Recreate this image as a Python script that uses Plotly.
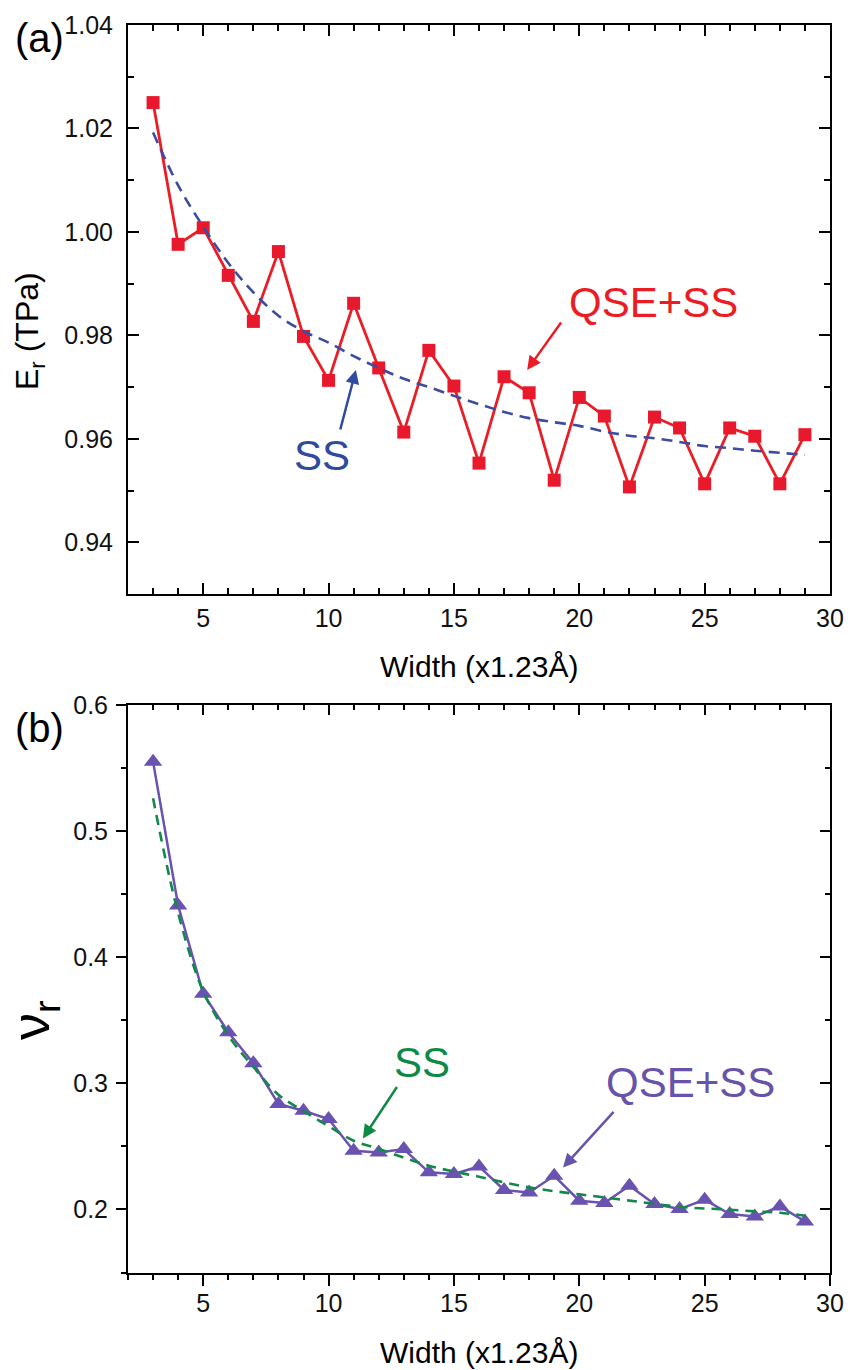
import plotly.graph_objects as go

# ---- data ----
width = list(range(3, 30))

# (a) Young's modulus, quantum-size + surface-stress model
er_qse_ss = [1.025, 0.9976, 1.0008, 0.9916, 0.9827, 0.9962, 0.9798, 0.9713, 0.9862,
             0.9737, 0.9613, 0.9771, 0.9702, 0.9553, 0.9720, 0.9689, 0.9520, 0.9680,
             0.9644, 0.9507, 0.9642, 0.9621, 0.9513, 0.9621, 0.9605, 0.9513, 0.9608]
# (a) surface-stress only
er_ss = [1.0192, 1.0090, 1.0010, 0.9940, 0.9883, 0.9838, 0.9808, 0.9786, 0.9760,
         0.9737, 0.9716, 0.9700, 0.9683, 0.9667, 0.9652, 0.9640, 0.9632, 0.9625,
         0.9614, 0.9606, 0.9601, 0.9594, 0.9586, 0.9582, 0.9577, 0.9573, 0.9569]

# (b) Poisson ratio, quantum-size + surface-stress model
nu_qse_ss = [0.555, 0.441, 0.371, 0.3405, 0.3159, 0.2837, 0.2783, 0.2717, 0.2466,
             0.2452, 0.2479, 0.2294, 0.2281, 0.2341, 0.2154, 0.2135, 0.2267, 0.2069,
             0.2051, 0.2188, 0.2043, 0.2003, 0.2077, 0.1963, 0.1944, 0.2024, 0.1905]
# (b) surface-stress only
nu_ss = [0.526, 0.435, 0.373, 0.338, 0.313, 0.291, 0.278, 0.266, 0.2545, 0.248,
         0.241, 0.2347, 0.230, 0.226, 0.2215, 0.2175, 0.2145, 0.212, 0.2095, 0.207,
         0.2045, 0.202, 0.2008, 0.1998, 0.1985, 0.1974, 0.195]

x_ticks = [5, 10, 15, 20, 25, 30]
er_ticks = [0.94, 0.96, 0.98, 1.00, 1.02, 1.04]
nu_ticks = [0.2, 0.3, 0.4, 0.5, 0.6]

# ---- styling ----
FONT = "Liberation Sans, Arial, Helvetica, sans-serif"
RED = "#EC1C24"
BLUE = "#3D4C9E"
BLUE_TXT = "#2E4B9E"
PURPLE = "#6A52B0"
PURPLE_TXT = "#6853AA"
GREEN = "#12884A"
GREEN_TXT = "#0E8A45"

W, H = 850, 1370
X0, X1 = 128, 830
TOP_A, BOT_A = 25, 594
TOP_B, BOT_B = 705, 1272.5


def px_x(p):
    return p / W


def px_y(p):
    return 1 - p / H


fig = go.Figure()

# panel (a)
fig.add_trace(go.Scatter(
    x=width, y=er_qse_ss, mode="lines+markers",
    line=dict(color=RED, width=2.8),
    marker=dict(symbol="square", size=13, color="#E8192C"),
    xaxis="x", yaxis="y", showlegend=False))
fig.add_trace(go.Scatter(
    x=width, y=er_ss, mode="lines", line_shape="spline",
    line=dict(color=BLUE, width=2.6, dash="11px,7px"),
    xaxis="x", yaxis="y", showlegend=False))

# panel (b)
fig.add_trace(go.Scatter(
    x=width, y=nu_qse_ss, mode="lines+markers",
    line=dict(color=PURPLE, width=2.5),
    marker=dict(symbol="triangle-up", size=16, color=PURPLE),
    xaxis="x2", yaxis="y2", showlegend=False))
fig.add_trace(go.Scatter(
    x=width, y=nu_ss, mode="lines", line_shape="spline",
    line=dict(color=GREEN, width=2.6, dash="10px,7px"),
    xaxis="x2", yaxis="y2", showlegend=False))

# invisible trace that brings up the inward-ticked top/right frame of panel (b)
fig.add_trace(go.Scatter(x=[None], y=[None], xaxis="x3", yaxis="y3",
                         showlegend=False, hoverinfo="skip"))

dom_x = [px_x(X0), px_x(X1)]
tickfont = dict(family=FONT, size=25, color="#111")

common_x = dict(range=[2, 30], tickvals=x_ticks, showgrid=False, zeroline=False,
                showline=True, linecolor="black", linewidth=2, tickcolor="black",
                tickwidth=2, ticklen=11, tickfont=tickfont, domain=dom_x,
                automargin=False)

fig.update_layout(
    template="none",
    width=W, height=H,
    margin=dict(l=0, r=0, t=0, b=0, autoexpand=False),
    paper_bgcolor="white", plot_bgcolor="white",
    font=dict(family=FONT),
    xaxis=dict(**common_x, anchor="y", ticks="inside", mirror="ticks",
               ticklabelstandoff=1,
               minor=dict(dtick=1, tick0=0, ticks="inside", ticklen=6,
                          tickwidth=1.5, tickcolor="black")),
    yaxis=dict(range=[0.93, 1.04], tickvals=er_ticks, tickformat=".2f",
               domain=[px_y(BOT_A), px_y(TOP_A)], anchor="x", automargin=False,
               showgrid=False, zeroline=False, showline=True, linecolor="black",
               linewidth=2, ticks="inside", mirror="ticks", ticklen=11,
               tickwidth=2, tickcolor="black", tickfont=tickfont,
               ticklabelstandoff=8,
               minor=dict(dtick=0.01, tick0=0.93, ticks="inside", ticklen=6,
                          tickwidth=1.5, tickcolor="black")),
    xaxis2=dict(**common_x, anchor="y2", ticks="outside", ticklabelstandoff=-4,
                minor=dict(dtick=1, tick0=0, ticks="outside", ticklen=5,
                           tickwidth=1.5, tickcolor="black")),
    yaxis2=dict(range=[0.15, 0.6], tickvals=nu_ticks, tickformat=".1f",
                domain=[px_y(BOT_B), px_y(TOP_B)], anchor="x2", automargin=False,
                showgrid=False, zeroline=False, showline=True, linecolor="black",
                linewidth=2, ticks="outside", ticklen=10, tickwidth=2,
                tickcolor="black", tickfont=tickfont, ticklabelstandoff=3,
                minor=dict(dtick=0.05, tick0=0.15, ticks="outside", ticklen=5,
                           tickwidth=1.5, tickcolor="black")),
    xaxis3=dict(range=[2, 30], tickvals=x_ticks, overlaying="x2", side="top",
                anchor="y3", showticklabels=False, showgrid=False, zeroline=False,
                automargin=False,
                showline=True, linecolor="black", linewidth=2, ticks="inside",
                ticklen=10, tickwidth=1.5, tickcolor="black",
                minor=dict(dtick=1, tick0=0, ticks="inside", ticklen=5,
                           tickwidth=1.5, tickcolor="black")),
    yaxis3=dict(range=[0.15, 0.6], tickvals=nu_ticks, overlaying="y2",
                side="right", anchor="x3", showticklabels=False, showgrid=False,
                automargin=False,
                zeroline=False, showline=True, linecolor="black", linewidth=2,
                ticks="inside", ticklen=10, tickwidth=2, tickcolor="black",
                minor=dict(dtick=0.05, tick0=0.15, ticks="inside", ticklen=5,
                           tickwidth=1.5, tickcolor="black")),
)

ann = []


def paper_text(text, xp, yp, size, color="black", angle=0):
    ann.append(dict(text=text, x=px_x(xp), y=px_y(yp), xref="paper", yref="paper",
                    xanchor="center", yanchor="middle", showarrow=False,
                    textangle=angle, font=dict(family=FONT, size=size, color=color)))


# panel tags
paper_text("(a)", 39, 38, 40)
paper_text("(b)", 39, 728, 40)

# axis titles
paper_text("Width (x1.23Å)", 479, 667, 30)
paper_text("Width (x1.23Å)", 479, 1352, 30)
paper_text("E<sub>r</sub> (TPa)", 29, 331, 32, angle=-90)
paper_text("ν<sub>r</sub>", 34, 1020, 54, angle=-90)


def label(text, x, y, xr, yr, size, color):
    ann.append(dict(text=text, x=x, y=y, xref=xr, yref=yr, showarrow=False,
                    xanchor="center", yanchor="middle",
                    font=dict(family=FONT, size=size, color=color)))


def arrow(x, y, xr, yr, ax, ay, color):
    ann.append(dict(text="", x=x, y=y, xref=xr, yref=yr, ax=ax, ay=ay,
                    showarrow=True, arrowhead=2, arrowsize=1.1, arrowwidth=2.5,
                    arrowcolor=color, standoff=0))


# panel (a) callouts
label("QSE+SS", 22.94, 0.9864, "x", "y", 42, RED)
arrow(17.92, 0.9733, "x", "y", 35, -49, RED)
label("SS", 9.74, 0.9567, "x", "y", 42, BLUE_TXT)
arrow(11.09, 0.9733, "x", "y", -16, 61, BLUE_TXT)

# panel (b) callouts
label("SS", 13.73, 0.3167, "x2", "y2", 42, GREEN_TXT)
arrow(11.37, 0.2563, "x2", "y2", 35, -53, GREEN_TXT)
label("QSE+SS", 24.42, 0.3008, "x2", "y2", 42, PURPLE_TXT)
arrow(19.35, 0.2333, "x2", "y2", 52, -57, PURPLE_TXT)

fig.update_layout(annotations=ann)

fig.write_html("out.html")
